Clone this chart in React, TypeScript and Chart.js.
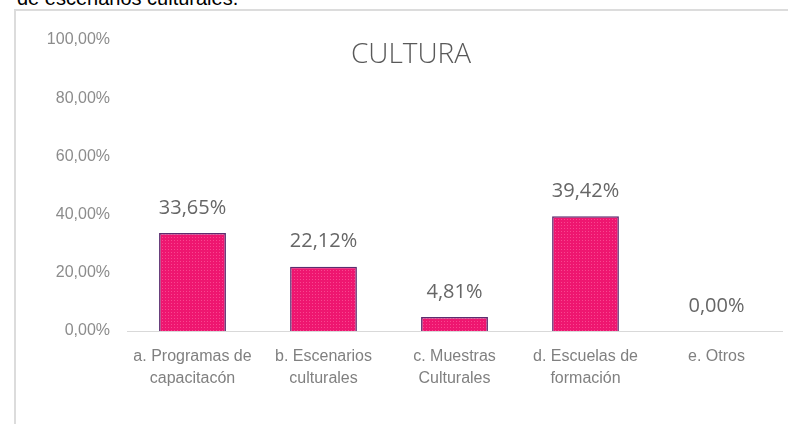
import React, { useEffect, useRef } from "react";
import { Chart, registerables } from "chart.js";

Chart.register(...registerables);

const categories: string[][] = [
  ["a. Programas de", "capacitacón"],
  ["b. Escenarios", "culturales"],
  ["c. Muestras", "Culturales"],
  ["d. Escuelas de", "formación"],
  ["e. Otros"],
];
const values: number[] = [33.65, 22.12, 4.81, 39.42, 0];
const yTicks: number[] = [0, 20, 40, 60, 80, 100];
const chartTitle = "CULTURA";
const precedingText = "de escenarios culturales.";

const fmt = (v: number) => v.toFixed(2).replace(".", ",") + "%";

function makePattern(): CanvasPattern | string {
  const c = document.createElement("canvas");
  c.width = 3;
  c.height = 3;
  const g = c.getContext("2d");
  if (!g) return "#ee1670";
  g.fillStyle = "#ee1670";
  g.fillRect(0, 0, 3, 3);
  g.fillStyle = "#f8468f";
  g.fillRect(0, 0, 1, 1);
  const p = g.createPattern(c, "repeat");
  return p || "#ee1670";
}

export default function App() {
  const ref = useRef<HTMLCanvasElement>(null);

  useEffect(() => {
    if (!ref.current) return;
    const titlePlugin = {
      id: "fixedTitle",
      afterDraw(chart: any) {
        const ctx = chart.ctx;
        ctx.save();
        ctx.font = '300 28px "Open Sans"';
        ctx.fillStyle = "#595959";
        ctx.textAlign = "center";
        ctx.textBaseline = "middle";
        ctx.fillText(chartTitle, 411, 55);
        ctx.restore();
      },
    };
    const labelPlugin = {
      id: "barValues",
      afterDatasetsDraw(chart: any) {
        const ctx = chart.ctx;
        const meta = chart.getDatasetMeta(0);
        ctx.save();
        ctx.font = '20px "Open Sans"';
        ctx.fillStyle = "#666666";
        ctx.textAlign = "center";
        ctx.textBaseline = "middle";
        meta.data.forEach((bar: any, i: number) => {
          ctx.fillText(fmt(values[i]), bar.x, bar.y - 25);
        });
        ctx.restore();
      },
    };
    const chart = new Chart(ref.current, {
      type: "bar",
      data: {
        labels: categories,
        datasets: [
          {
            data: values,
            backgroundColor: makePattern() as any,
            borderColor: "#5b2c6f",
            borderWidth: 1.5,
            categoryPercentage: 1,
            barPercentage: 0.51,
          },
        ],
      },
      options: {
        animation: false,
        responsive: false,
        layout: { padding: { top: 40, right: 6, bottom: 0, left: 0 } },
        plugins: {
          legend: { display: false },
          tooltip: { enabled: false },
          title: { display: false },
        },
        scales: {
          x: {
            grid: { display: false, drawTicks: false },
            border: { display: true, color: "#d9d9d9", width: 1 },
            ticks: {
              color: "#808080",
              padding: 15,
              maxRotation: 0,
              autoSkip: false,
              font: { family: "Liberation Sans", size: 16, lineHeight: 1.35 },
            },
            afterFit(scale: any) {
              scale.height = 93;
            },
          },
          y: {
            min: 0,
            max: 100,
            afterBuildTicks(scale: any) {
              scale.ticks = yTicks.map((v) => ({ value: v }));
            },
            grid: { display: false, drawTicks: false },
            border: { display: false },
            ticks: {
              color: "#8c8c8c",
              padding: 17,
              font: { family: "Liberation Sans", size: 16 },
              callback: (v: any) => fmt(Number(v)),
            },
            afterFit(scale: any) {
              scale.width = 127;
            },
          },
        },
      },
      plugins: [titlePlugin, labelPlugin],
    });
    return () => chart.destroy();
  }, []);

  return (
    <div
      style={{
        position: "fixed",
        left: 0,
        top: 0,
        width: 788,
        height: 424,
        overflow: "hidden",
        background: "#ffffff",
      }}
    >
      <div
        style={{
          position: "absolute",
          left: 17,
          top: -12,
          fontFamily: '"Liberation Sans", Arial, sans-serif',
          fontSize: 20,
          lineHeight: "20px",
          color: "#000",
          whiteSpace: "nowrap",
        }}
      >
        {precedingText}
      </div>
      <div
        style={{
          position: "absolute",
          left: 14,
          top: 9,
          width: 1000,
          height: 1000,
          borderLeft: "2px solid #dcdcdc",
          borderTop: "2px solid #dcdcdc",
        }}
      />
      <canvas
        ref={ref}
        width={788}
        height={424}
        style={{ position: "absolute", left: 0, top: 0, width: 788, height: 424 }}
      />
    </div>
  );
}
